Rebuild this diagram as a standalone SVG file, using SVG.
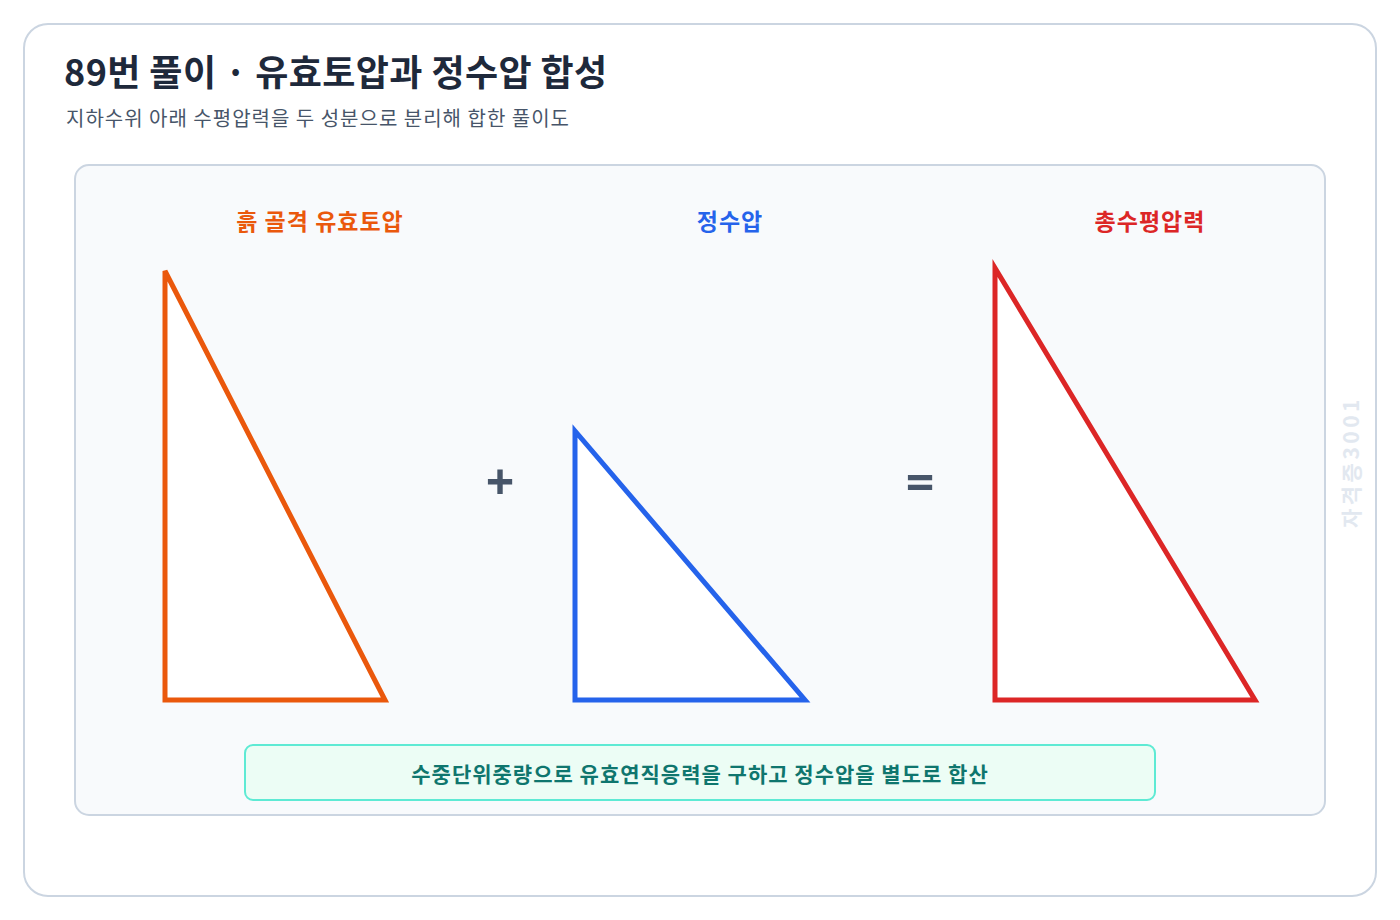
<svg xmlns="http://www.w3.org/2000/svg" width="1400" height="920" viewBox="0 0 1400 920">
<style>
.t{font-family:"Noto Sans CJK KR","Noto Sans",sans-serif}
.lbl{font-size:23px;font-weight:700;text-anchor:middle;letter-spacing:1px}
.op{font-size:50px;font-weight:700;fill:#475569;text-anchor:middle;font-family:"Noto Sans","DejaVu Sans",sans-serif}
.tri{fill:#ffffff;stroke-width:5;stroke-linejoin:miter}
</style>
<rect x="0" y="0" width="1400" height="920" fill="#ffffff"/>
<rect x="24" y="24" width="1352" height="872" rx="24" fill="#ffffff" stroke="#cbd5e1" stroke-width="2"/>
<text class="t" x="64" y="86" font-size="36" font-weight="700" fill="#1e293b" letter-spacing="0.4">89번 풀이 · 유효토압과 정수압 합성</text>
<text class="t" x="66" y="126" font-size="20" fill="#475569" letter-spacing="1">지하수위 아래 수평압력을 두 성분으로 분리해 합한 풀이도</text>
<rect x="75" y="165" width="1250" height="650" rx="14" fill="#f8fafc" stroke="#cbd5e1" stroke-width="2"/>
<g id="effective">
<text class="t lbl" x="320" y="230" fill="#ea580c">흙 골격 유효토압</text>
<polygon class="tri" points="165,271 165,700 385,700" stroke="#ea580c"/>
</g>
<g id="hydro">
<text class="t lbl" x="730" y="230" fill="#2563eb">정수압</text>
<polygon class="tri" points="575,431 575,700 805,700" stroke="#2563eb"/>
</g>
<g id="total">
<text class="t lbl" x="1150" y="230" fill="#dc2626">총수평압력</text>
<polygon class="tri" points="995,268 995,700 1255,700" stroke="#dc2626"/>
</g>
<g id="connectors">
<text class="op" x="500" y="500">+</text>
<text class="op" x="920" y="500">=</text>
</g>
<g id="note">
<rect x="245" y="745" width="910" height="55" rx="8" fill="#ecfdf5" stroke="#5eead4" stroke-width="2"/>
<text class="t" x="700" y="782" font-size="21" font-weight="700" fill="#0f766e" text-anchor="middle" letter-spacing="1">수중단위중량으로 유효연직응력을 구하고 정수압을 별도로 합산</text>
</g>
<text class="t" x="0" y="0" font-size="21" font-weight="700" fill="#e2e8f0" letter-spacing="3.5" text-anchor="middle" transform="translate(1359,462) rotate(-90)">자격증3001</text>
</svg>
